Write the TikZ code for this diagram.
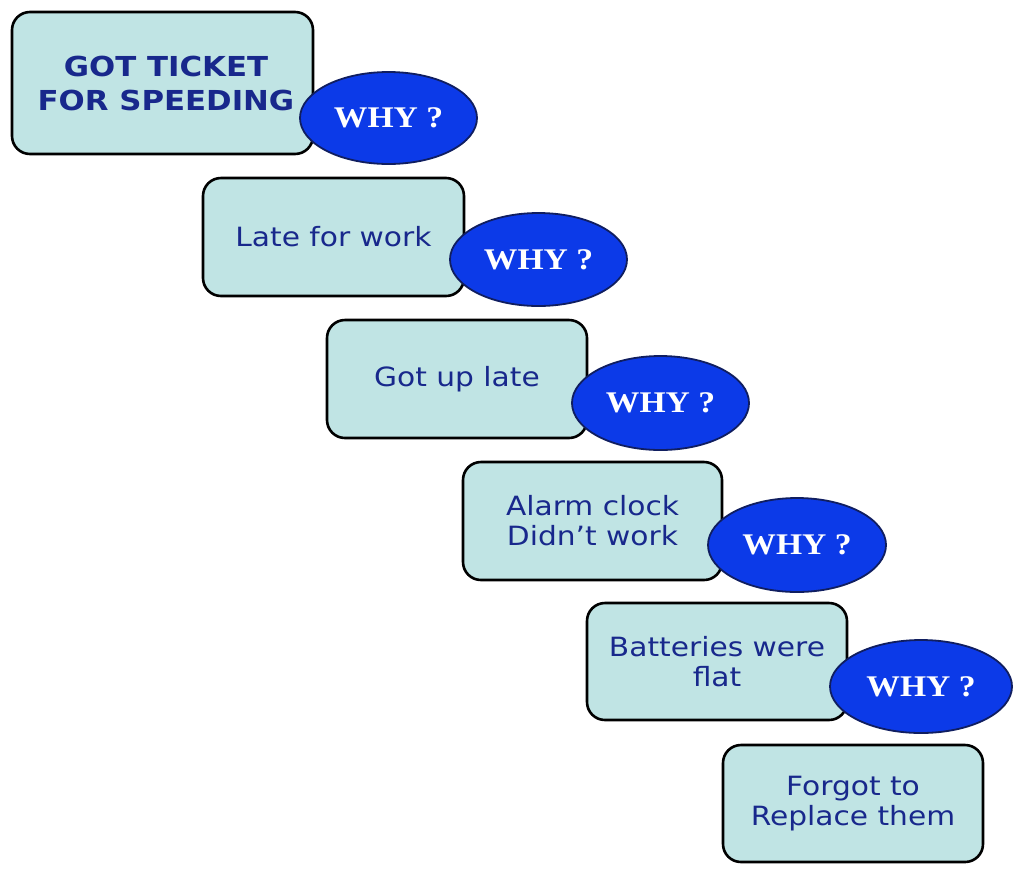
\documentclass[tikz,border=0pt]{standalone}
\usepackage{fontspec}
\setmainfont{DejaVu Sans}
\newfontfamily\whyfont{Liberation Serif}
\usetikzlibrary{shapes.geometric}
\definecolor{boxfill}{RGB}{192,228,228}
\definecolor{boxtext}{RGB}{24,40,140}
\definecolor{ellfill}{RGB}{12,58,232}
\definecolor{elldraw}{RGB}{16,30,96}
\tikzset{
  whybox/.style={draw=black, line width=2.6pt, fill=boxfill, rounded corners=18pt,
    inner sep=0pt, align=center, text=boxtext,
    font=\fontsize{26.5}{30}\selectfont},
  whyell/.style={ellipse, draw=elldraw, line width=1.8pt, fill=ellfill, inner sep=0pt,
    text=white, font=\whyfont\bfseries\fontsize{30}{30}\selectfont}
}
\newcommand{\wide}[1]{\scalebox{1.12}[1]{#1}}
\begin{document}
\begin{tikzpicture}[x=1pt,y=-1pt]
\useasboundingbox (0,0) rectangle (1024,876);
\node[whybox, minimum width=301pt, minimum height=142pt] (b1) at (162.5,83) {};
\node[text=boxtext, align=center, inner sep=0pt, font=\bfseries\fontsize{27.5}{34}\selectfont] (t1) at (166,83) {\wide{GOT TICKET}\\\wide{FOR SPEEDING}};
\node[whyell, minimum width=177pt, minimum height=92pt] (e1) at (388.5,118) {\wide{WHY ?}};
\node[whybox, minimum width=261pt, minimum height=118pt] (b2) at (333.5,237) {\wide{Late for work}};
\node[whyell, minimum width=177pt, minimum height=93pt] (e2) at (538.5,259.5) {\wide{WHY ?}};
\node[whybox, minimum width=260pt, minimum height=118pt] (b3) at (457,379) {\wide{Got up late}};
\node[whyell, minimum width=177pt, minimum height=94pt] (e3) at (660.5,403) {\wide{WHY ?}};
\node[whybox, minimum width=259pt, minimum height=118pt] (b4) at (592.5,521) {\wide{Alarm clock}\\\wide{Didn’t work}};
\node[whyell, minimum width=178pt, minimum height=94pt] (e4) at (797,545) {\wide{WHY ?}};
\node[whybox, minimum width=260pt, minimum height=117pt] (b5) at (717,661.5) {\wide{Batteries were}\\\wide{flat}};
\node[whyell, minimum width=182pt, minimum height=93pt] (e5) at (921,686.5) {\wide{WHY ?}};
\node[whybox, minimum width=260pt, minimum height=117pt] (b6) at (853,803.5) {\wide{Forgot to}\\\wide{Replace them}};
\end{tikzpicture}
\end{document}
